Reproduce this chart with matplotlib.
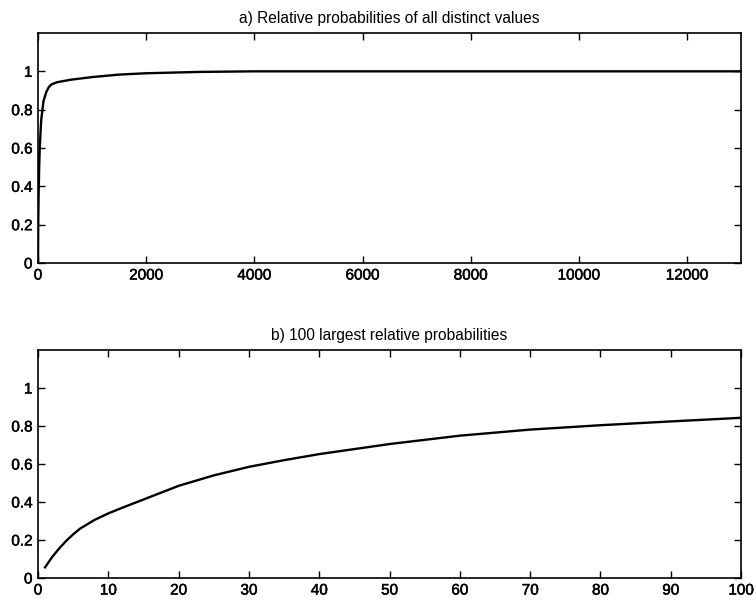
import matplotlib
matplotlib.use("Agg")
import matplotlib.pyplot as plt
import matplotlib.patheffects as pe

plt.rcParams['font.family'] = ['Liberation Sans', 'DejaVu Sans']

# a) cumulative relative probabilities of all distinct values
rank_all = [0, 1, 2, 3, 5, 10, 20, 30, 50, 60, 100, 150, 200, 250, 350, 600, 1000,
            1500, 2000, 3000, 4000, 13000]
cum_all = [0.0, 0.056, 0.11, 0.155, 0.23, 0.34, 0.485, 0.585, 0.705, 0.749, 0.843,
           0.89, 0.918, 0.932, 0.943, 0.956, 0.97, 0.983, 0.99, 0.997, 1.0, 1.0]

# b) 100 largest relative probabilities
rank_top = [1, 2, 3, 4, 5, 6, 8, 10, 12, 15, 20, 25, 30, 35, 40, 50, 60, 70, 80,
            90, 100]
cum_top = [0.056, 0.11, 0.155, 0.195, 0.23, 0.26, 0.305, 0.34, 0.37, 0.413, 0.485,
           0.54, 0.585, 0.62, 0.652, 0.705, 0.749, 0.781, 0.804, 0.824, 0.843]

titles = ["a) Relative probabilities of all distinct values",
          "b) 100 largest relative probabilities"]
x_ticks_a = [0, 2000, 4000, 6000, 8000, 10000, 12000]
x_ticks_b = [0, 10, 20, 30, 40, 50, 60, 70, 80, 90, 100]
y_ticks = [0, 0.2, 0.4, 0.6, 0.8, 1]
y_labels = ["0", "0.2", "0.4", "0.6", "0.8", "1"]

fig = plt.figure(figsize=(7.56, 6), dpi=100)
ax1 = fig.add_axes([0.0503, 0.5617, 0.930, 0.3833])
ax2 = fig.add_axes([0.0503, 0.0367, 0.930, 0.3800])

panels = [(ax1, rank_all, cum_all, 13000, x_ticks_a),
          (ax2, rank_top, cum_top, 100, x_ticks_b)]

# scanned-print look: tick labels slightly heavier than regular
thick = [pe.withStroke(linewidth=0.35, foreground='black')]

for (ax, xs, ys, xmax, xt), title in zip(panels, titles):
    ax.plot(xs, ys, color='black', linewidth=1.7)
    ax.set_xlim(0, xmax)
    ax.set_ylim(0, 1.2)
    ax.set_xticks(xt)
    ax.set_xticklabels([str(v) for v in xt])
    ax.set_yticks(y_ticks)
    ax.set_yticklabels(y_labels)
    ax.tick_params(direction='in', top=True, right=True, length=5, width=1,
                   labelsize=11, pad=4)
    for lab in ax.get_xticklabels() + ax.get_yticklabels():
        lab.set_path_effects(thick)
    for sp in ax.spines.values():
        sp.set_linewidth(1.2)
    ax.set_title(title, fontsize=11.2, pad=7)

fig.savefig("out.png", dpi=100)
